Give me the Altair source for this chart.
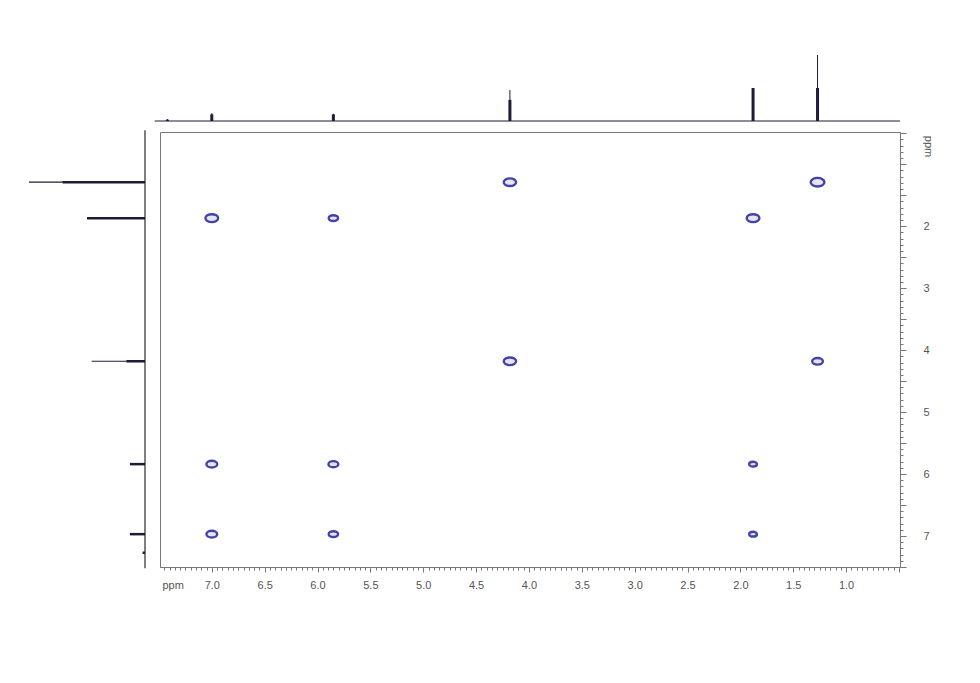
import altair as alt
import numpy as np
import pandas as pd

# ---- data ----
# cross / diagonal peaks (F2 ppm, F1 ppm, relative intensity)
cp_f2 = [4.18, 1.27, 7.00, 5.85, 1.88, 4.18, 1.27, 7.00, 5.85, 1.88, 7.00, 5.85, 1.88]
cp_f1 = [1.29, 1.29, 1.87, 1.87, 1.87, 4.18, 4.18, 5.84, 5.84, 5.84, 6.97, 6.97, 6.97]
cp_int = [0.80, 1.00, 0.85, 0.45, 0.85, 0.80, 0.60, 0.60, 0.50, 0.30, 0.60, 0.45, 0.30]

# top projection (F2): position, full height (tip), body height
top_ppm = [7.42, 7.00, 5.85, 4.18, 1.88, 1.27]
top_tip = [3, 12, 11, 47, 50, 100]
top_body = [2, 10, 10, 32, 50, 50]

# left projection (F1): position, full height (tip), body height
left_ppm = [1.29, 1.87, 4.18, 5.84, 6.97, 7.27]
left_tip = [100, 50, 46, 13, 13, 2]
left_body = [71, 50, 16, 13, 13, 2]

# axis ticks
x_ticks = [round(v, 2) for v in np.arange(0.50, 7.50001, 0.05)]
y_ticks = [round(v, 1) for v in np.arange(0.5, 7.50001, 0.1)]

cross = pd.DataFrame({"f2": cp_f2, "f1": cp_f1, "intensity": cp_int})
top = pd.DataFrame({"ppm": top_ppm, "tip": top_tip, "body": top_body, "base": 0})
left = pd.DataFrame({"ppm": left_ppm, "tip": left_tip, "body": left_body, "base": 0})
top_base = pd.DataFrame({"start": [7.54], "end": [0.49], "level": [0]})
left_base = pd.DataFrame({"start": [0.45], "end": [7.52], "level": [0]})

W, H = 740, 435
FONT = "Liberation Sans"
SPEC = "#1c1c36"

ppm_x = alt.Scale(domain=[0.49, 7.49], reverse=True, nice=False, zero=False)
ppm_y = alt.Scale(domain=[0.48, 7.50], reverse=True, nice=False, zero=False)
top_int = alt.Scale(domain=[0, 100], range=[-11, -77], nice=False, zero=False)
left_int = alt.Scale(domain=[0, 100], range=[-15, -131], nice=False, zero=False)

half = "abs(datum.value*2 - round(datum.value*2)) < 0.001"
whole = "abs(datum.value - round(datum.value)) < 0.001"

x_axis = alt.Axis(
    orient="bottom", values=x_ticks, grid=False,
    labelExpr=f"({half}) && datum.value > 0.99 && datum.value < 7.01 ? format(datum.value, '.1f') : ''",
    labelOverlap=False, labelFlush=False, labelBound=False,
    tickSize={"condition": {"test": half, "value": 5}, "value": 3},
    tickColor="#777", domainColor="#777", labelColor="#555",
    labelFont=FONT, labelFontSize=11, labelPadding=7,
    title="ppm", titleX=2, titleY=18, titleAlign="left", titleBaseline="middle",
    titleFont=FONT, titleFontSize=11, titleFontWeight="normal", titleColor="#555",
)
y_axis = alt.Axis(
    orient="right", values=y_ticks, grid=False,
    labelExpr=f"({whole}) && datum.value > 1.99 && datum.value < 7.01 ? format(datum.value, 'd') : ''",
    labelOverlap=False, labelFlush=False, labelBound=False,
    tickSize={"condition": {"test": half, "value": 6}, "value": 3},
    tickColor="#777", domainColor="#777", labelColor="#555",
    labelFont=FONT, labelFontSize=11, labelPadding=17,
    title="ppm", titleX=27, titleY=14, titleAngle=90, titleAlign="center", titleBaseline="middle",
    titleFont=FONT, titleFontSize=11, titleFontWeight="normal", titleColor="#555",
)

ellipse = "M -1 0 A 1 0.62 0 1 0 1 0 A 1 0.62 0 1 0 -1 0 Z"

peaks = alt.Chart(cross).mark_point(
    shape=ellipse, filled=True, fill="#e4e4f6", stroke="#4343a4", strokeWidth=2.4, opacity=1, fillOpacity=1
).encode(
    x=alt.X("f2:Q", scale=ppm_x, axis=x_axis),
    y=alt.Y("f1:Q", scale=ppm_y, axis=y_axis),
    size=alt.Size("intensity:Q", scale=alt.Scale(domain=[0.3, 1.0], range=[60, 190]), legend=None),
)

top_baseline = alt.Chart(top_base).mark_rule(color=SPEC, strokeWidth=1.2).encode(
    x=alt.X("start:Q", scale=ppm_x, axis=None), x2="end:Q",
    y=alt.Y("level:Q", scale=top_int, axis=None),
)
top_thin = alt.Chart(top).mark_rule(color=SPEC, strokeWidth=1).encode(
    x=alt.X("ppm:Q", scale=ppm_x, axis=None),
    y=alt.Y("tip:Q", scale=top_int, axis=None), y2="base:Q",
)
top_thick = alt.Chart(top).mark_rule(color=SPEC, strokeWidth=3).encode(
    x=alt.X("ppm:Q", scale=ppm_x, axis=None),
    y=alt.Y("body:Q", scale=top_int, axis=None), y2="base:Q",
)

left_baseline = alt.Chart(left_base).mark_rule(color="#555", strokeWidth=1.5).encode(
    y=alt.Y("start:Q", scale=ppm_y, axis=None), y2="end:Q",
    x=alt.X("level:Q", scale=left_int, axis=None),
)
left_thin = alt.Chart(left).mark_rule(color=SPEC, strokeWidth=1.2).encode(
    y=alt.Y("ppm:Q", scale=ppm_y, axis=None),
    x=alt.X("tip:Q", scale=left_int, axis=None), x2="base:Q",
)
left_thick = alt.Chart(left).mark_rule(color=SPEC, strokeWidth=2.5).encode(
    y=alt.Y("ppm:Q", scale=ppm_y, axis=None),
    x=alt.X("body:Q", scale=left_int, axis=None), x2="base:Q",
)

chart = alt.layer(
    peaks, top_baseline, top_thin, top_thick, left_baseline, left_thin, left_thick
).resolve_scale(
    x="independent", y="independent", size="independent"
).properties(
    width=W, height=H,
    autosize=alt.AutoSizeParams(type="none"),
    padding={"left": 152, "top": 124, "right": 60, "bottom": 90},
    background="white",
).configure_view(
    stroke="#777", strokeWidth=1
)

chart.save("out.html", embed_options={"renderer": "svg", "actions": False})
